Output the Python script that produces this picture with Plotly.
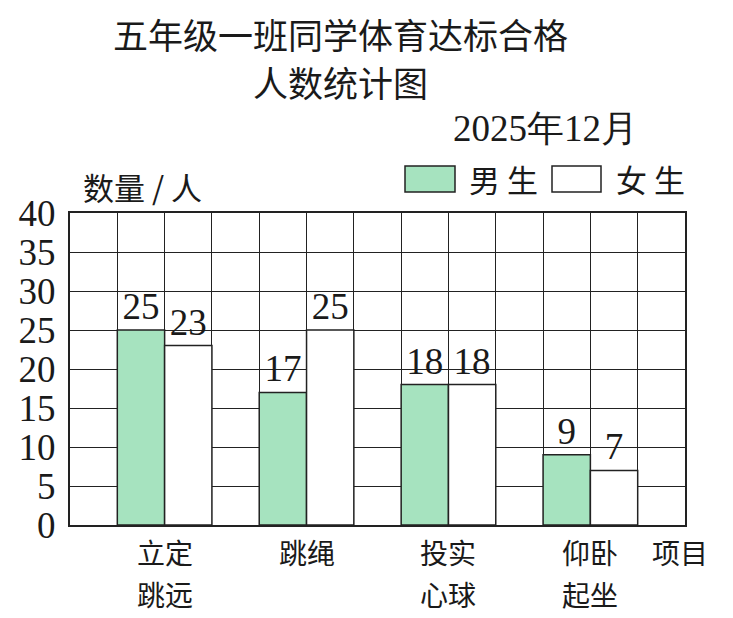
import plotly.graph_objects as go

categories = ["立定<br>跳远", "跳绳", "投实<br>心球", "仰卧<br>起坐"]
boys = [25, 17, 18, 9]
girls = [23, 25, 18, 7]
y_ticks = [0, 5, 10, 15, 20, 25, 30, 35, 40]

# column layout: each category occupies columns (3k+1, 3k+2) of a 13-column grid
boy_x = [3 * i + 1.5 for i in range(len(categories))]
girl_x = [3 * i + 2.5 for i in range(len(categories))]
cat_x = [3 * i + 2 for i in range(len(categories))]

GREEN = "#a6e3bf"
LINE = "#222222"
TXT = "#1a1a1a"
SERIF = "Liberation Serif, Times New Roman, serif"
CJK = "Noto Sans CJK SC, sans-serif"

fig = go.Figure()
fig.add_trace(go.Bar(x=boy_x, y=boys, width=1, name="男生",
                     marker=dict(color=GREEN, line=dict(color=LINE, width=1.5)),
                     text=boys, textposition="outside", cliponaxis=False,
                     textfont=dict(family=SERIF, size=37, color=TXT)))
fig.add_trace(go.Bar(x=girl_x, y=girls, width=1, name="女生",
                     marker=dict(color="white", line=dict(color=LINE, width=1.5)),
                     text=girls, textposition="outside", cliponaxis=False,
                     textfont=dict(family=SERIF, size=37, color=TXT)))

fig.update_layout(
    width=725, height=610,
    margin=dict(l=62, r=48, t=205, b=93),
    paper_bgcolor="white", plot_bgcolor="white",
    showlegend=False, barmode="overlay",
    xaxis=dict(range=[0, 13], dtick=1, tick0=0, showgrid=True,
               gridcolor=LINE, gridwidth=1.3, showticklabels=False,
               showline=True, linecolor=LINE, linewidth=2, mirror=True,
               zeroline=False, fixedrange=True),
    yaxis=dict(range=[0, 40], tickvals=y_ticks, showgrid=True,
               gridcolor=LINE, gridwidth=1.3,
               showline=True, linecolor=LINE, linewidth=2, mirror=True,
               zeroline=False, ticks="", ticklabelstandoff=5,
               tickfont=dict(family=SERIF, size=37, color=TXT)),
)


def px_x(x):
    return (x - 70) / 615.0


def px_y(y):
    return (525 - y) / 312.0


# category labels below axis (one annotation per line)
for cx, lab in zip(cat_x, categories):
    for j, line in enumerate(lab.split("<br>")):
        fig.add_annotation(x=cx, y=px_y(552 + 42 * j), xref="x", yref="paper",
                           text=line, showarrow=False, yanchor="middle",
                           font=dict(family=CJK, size=28, color=TXT))

annots = [
    (680, 552, "项目", CJK, 28),
    (340, 33, "五年级一班同学体育达标合格", CJK, 35),
    (340, 82, "人数统计图", CJK, 35),
    (545, 128, "2025年12月", SERIF, 37),
    (142, 186, "数量 / 人", CJK, 31),
    (503, 178, "男 生", CJK, 31),
    (650, 178, "女 生", CJK, 31),
]
for x, y, t, f, s in annots:
    fig.add_annotation(x=px_x(x), y=px_y(y), xref="paper", yref="paper", text=t,
                       showarrow=False, xanchor="center", yanchor="middle",
                       font=dict(family=f, size=s, color=TXT))

# legend boxes
fig.add_shape(type="rect", xref="paper", yref="paper",
              x0=px_x(405), x1=px_x(455), y0=px_y(166), y1=px_y(192),
              fillcolor=GREEN, line=dict(color=LINE, width=1.5))
fig.add_shape(type="rect", xref="paper", yref="paper",
              x0=px_x(552), x1=px_x(601), y0=px_y(166), y1=px_y(192),
              fillcolor="white", line=dict(color=LINE, width=1.5))

fig.write_html("out.html")
